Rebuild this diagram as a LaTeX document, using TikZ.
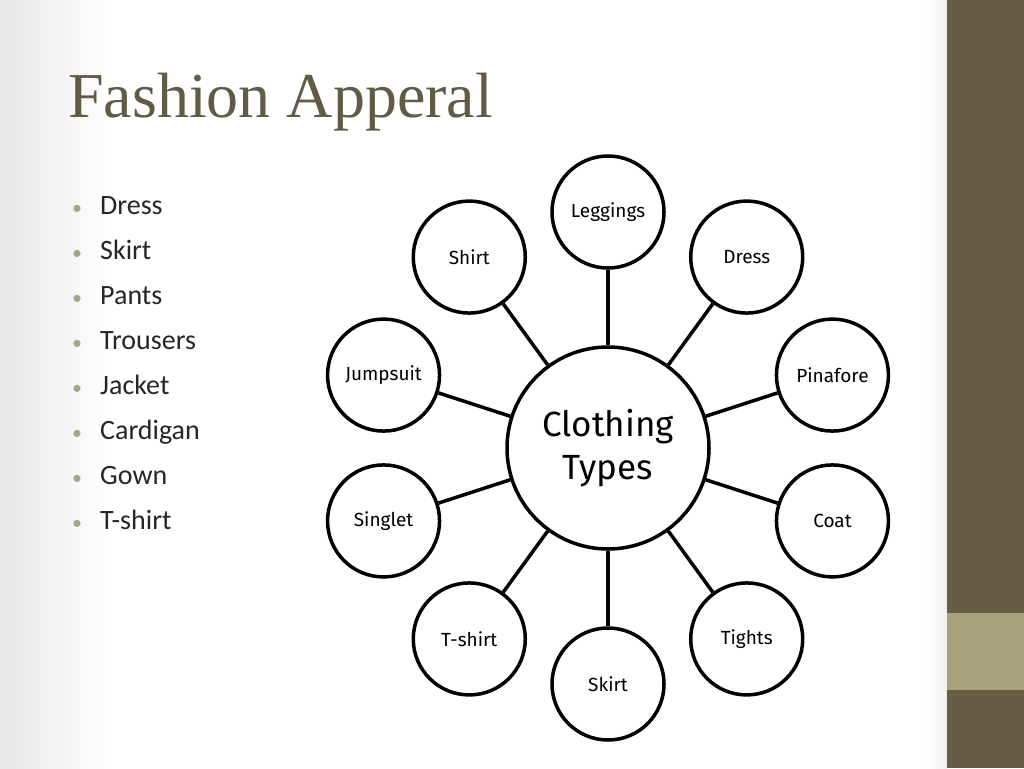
\documentclass[tikz,border=0pt]{standalone}
\usepackage{fontspec}
\usetikzlibrary{calc}
\setmainfont{Carlito}
\newfontfamily\titlefont{Liberation Serif}
\newfontfamily\circfont{Fira Sans}
\definecolor{bardark}{HTML}{675D45}
\definecolor{barlight}{HTML}{A6A37C}
\definecolor{titlecol}{HTML}{615A45}
\definecolor{bulletcol}{HTML}{A6A58A}
\definecolor{textcol}{HTML}{262626}
\tikzset{
  hub/.style={circle, draw=black, line width=3.5pt, fill=white, minimum size=202pt, inner sep=0pt,
    font=\circfont\fontsize{35}{43}\selectfont, align=center},
  leaf/.style={circle, draw=black, line width=3.5pt, fill=white, minimum size=112pt, inner sep=0pt,
    font=\circfont\fontsize{19}{22}\selectfont},
  spoke/.style={line width=3.5pt, draw=black},
  itemtext/.style={anchor=base west, font=\fontsize{28}{34}\selectfont, text=textcol, inner sep=0pt},
  itembullet/.style={anchor=base, font=\fontsize{20}{24}\selectfont, text=bulletcol, inner sep=0pt}
}
\begin{document}
\begin{tikzpicture}[x=1pt,y=1pt]
\useasboundingbox (0,0) rectangle (1024,-768);
% background
\fill[white] (0,0) rectangle (1024,-768);
\shade[left color=black!10, right color=white] (0,0) rectangle (110,-768);
\shade[left color=white, right color=black!6] (925,0) rectangle (947,-768);
% right bar
\fill[bardark] (947,0) rectangle (1024,-768);
\fill[barlight] (947,-613) rectangle (1024,-690);
% title
\node[anchor=base west, inner sep=0pt, text=titlecol, font=\titlefont\fontsize{64}{70}\selectfont] (title) at (68,-117) {Fashion Apperal};
% bullet list
\foreach \t [count=\i from 0] in {Dress,Skirt,Pants,Trousers,Jacket,Cardigan,Gown,T-shirt}{
  \node[itembullet] (b\i) at (77,-214-45*\i) {\textbullet};
  \node[itemtext] (t\i) at (100,-214-45*\i) {\t};
}
% diagram
\node[hub] (hub) at (608,-448) {Clothing\\Types};
\foreach \name/\ang [count=\k] in {Leggings/90, Dress/54, Pinafore/18, Coat/-18, Tights/-54, Skirt/-90, T-shirt/-126, Singlet/-162, Jumpsuit/162, Shirt/126}{
  \node[leaf] (n\k) at ($(hub.center)+(\ang:236)$) {\name};
  \draw[spoke] (hub) -- (n\k);
}
\end{tikzpicture}
\end{document}
